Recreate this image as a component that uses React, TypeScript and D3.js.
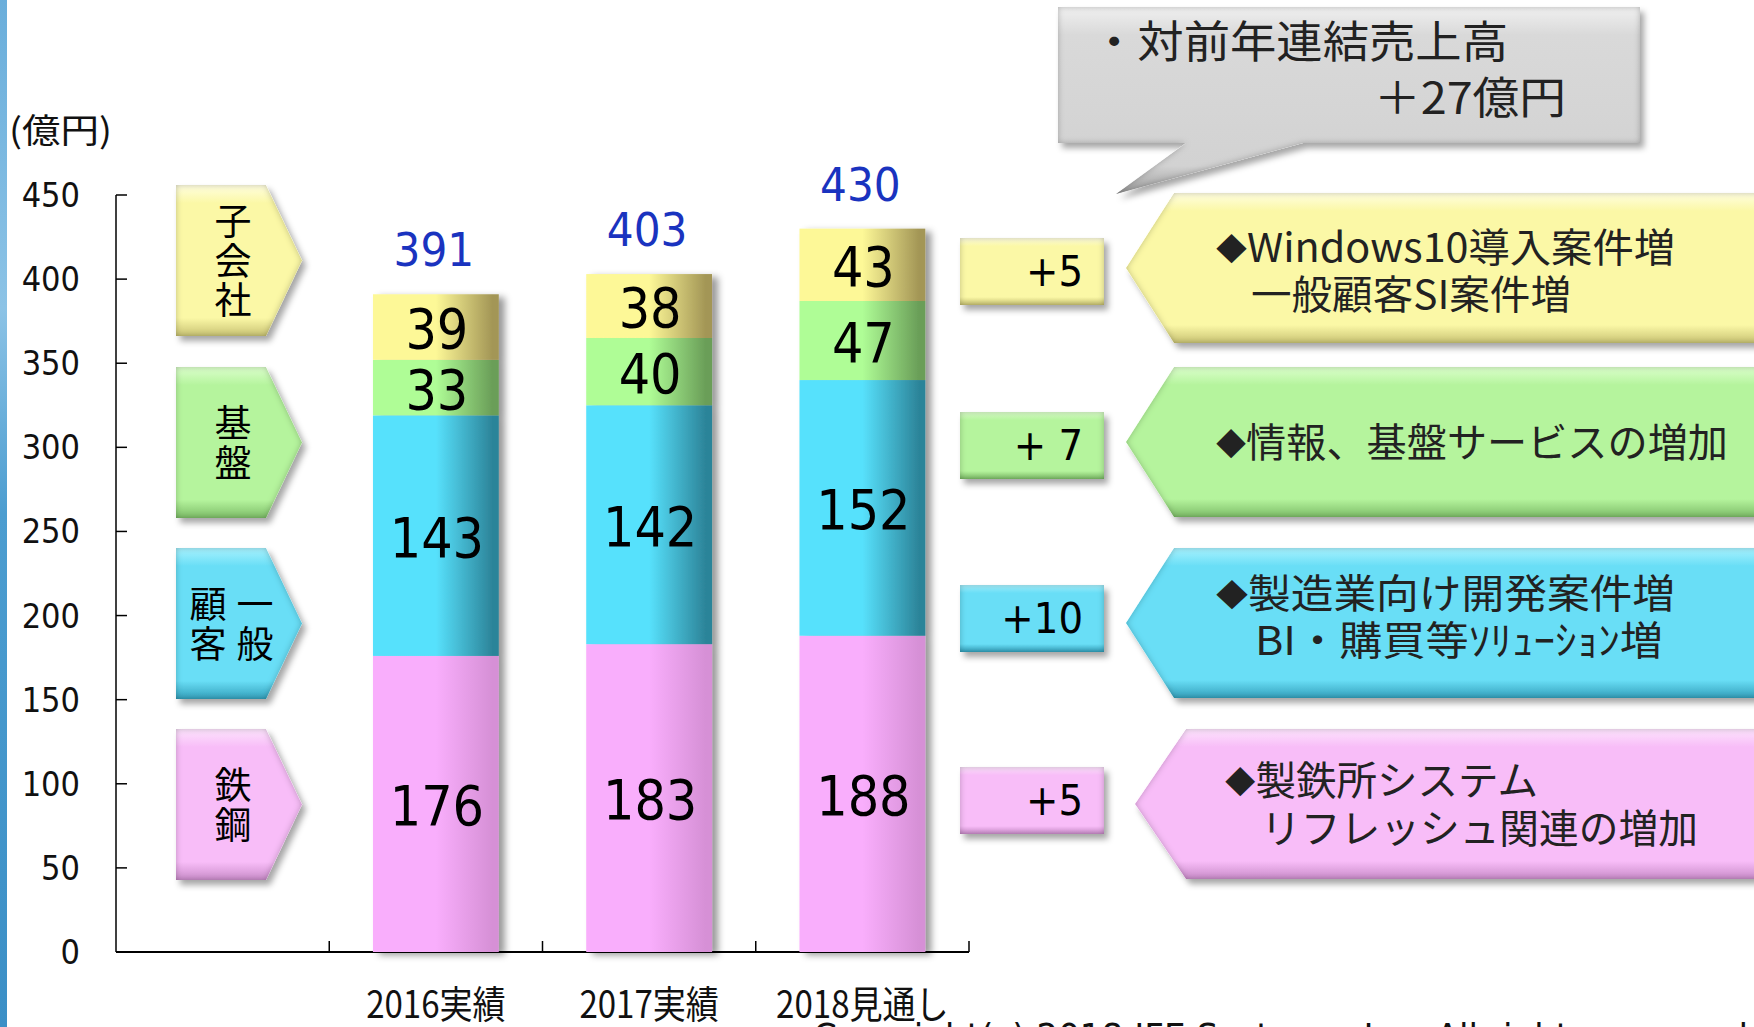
import React from "react";
import * as d3 from "d3";

// ---------- data ----------
const categories = ["2016実績", "2017実績", "2018見通し"];
const steelValues = [176, 183, 188];
const customerValues = [143, 142, 152];
const infraValues = [33, 40, 47];
const subsidiaryValues = [39, 38, 43];
const totalValues = [391, 403, 430];
const yTickValues = [0, 50, 100, 150, 200, 250, 300, 350, 400, 450];
const seriesKeys = ["steel", "customer", "infra", "subsidiary"];
const deltaLabels = ["+5", "+10", "+ 7", "+5"];
const calloutLines = [
  ["◆製鉄所システム", "リフレッシュ関連の増加"],
  ["◆製造業向け開発案件増", "BI・購買等ｿﾘｭｰｼｮﾝ増"],
  ["◆情報、基盤サービスの増加"],
  ["◆Windows10導入案件増", "一般顧客SI案件増"],
];
// vertical legend texts, columns from left to right
const legendColumns = [["鉄鋼"], ["顧客", "一般"], ["基盤"], ["子会社"]];
const bubbleLines = ["・対前年連結売上高", "＋27億円"];
const unitLabel = "(億円)";
const copyright = "Copyright(c) 2018 JFE Systems, Inc. All rights reserved.";

// ---------- styles / layout ----------
const W = 1754;
const H = 1027;
const NUM_FONT = "'DejaVu Sans Condensed', 'DejaVu Sans', sans-serif";
const JP_FONT = "'Noto Sans CJK JP', 'Noto Sans', sans-serif";

const barColors: Record<string, [string, string]> = {
  steel: ["#f9aefc", "#d690d6"],
  customer: ["#57e1fc", "#2c8499"],
  infra: ["#affd96", "#6a9e58"],
  subsidiary: ["#fdf897", "#a39656"],
};
const shapeColors = [
  { light: "#fde4fd", base: "#f8bdf8", dark: "#c98cc9" },
  { light: "#a8f2ff", base: "#69def6", dark: "#35a0bb" },
  { light: "#dcffcc", base: "#b5f49d", dark: "#7dbd68" },
  { light: "#fffee0", base: "#fbf8a6", dark: "#c9c374" },
];
const legendTops = [729, 548, 367, 185];
const calloutGeo = [
  { tip: 1135, body: 1186, top: 729 },
  { tip: 1126, body: 1174, top: 548 },
  { tip: 1126, body: 1174, top: 367 },
  { tip: 1126, body: 1174, top: 193 },
];
const calloutText = [
  [{ x: 1225, y: 795, w: 313 }, { x: 1261, y: 843, w: 437 }],
  [{ x: 1216, y: 608, w: 459 }, { x: 1255, y: 655, w: 408 }],
  [{ x: 1216, y: 457, w: 512 }],
  [{ x: 1216, y: 262, w: 459 }, { x: 1251, y: 309, w: 320 }],
];
const deltaTops = [767, 585, 412, 238];

export default function App() {
  const x = d3
    .scaleBand<string>()
    .domain(["", ...categories])
    .range([116, 969])
    .padding(0);
  const y = d3.scaleLinear().domain([0, 450]).range([952, 195]);
  const bw = x.bandwidth();
  const barW = bw * 0.59;

  const rows = categories.map((c, i) => ({
    cat: c,
    steel: steelValues[i],
    customer: customerValues[i],
    infra: infraValues[i],
    subsidiary: subsidiaryValues[i],
  }));
  const stacked = d3.stack<any>().keys(seriesKeys)(rows);

  const legendPath = (top: number) => {
    const l = 176, r = 266, tip = 302, h = 151;
    return d3.line()([
      [l, top], [r, top], [tip, top + h / 2], [r, top + h], [l, top + h],
    ] as [number, number][]) + "Z";
  };
  const calloutPath = (g: { tip: number; body: number; top: number }) => {
    const h = 150;
    return d3.line()([
      [g.body, g.top], [W + 10, g.top], [W + 10, g.top + h], [g.body, g.top + h], [g.tip, g.top + h / 2],
    ] as [number, number][]) + "Z";
  };
  const bubblePath = d3.line()([
    [1058, 7], [1640, 7], [1640, 143], [1303, 143], [1116, 194], [1186, 143], [1058, 143],
  ] as [number, number][]) + "Z";

  const boundaries = x.domain().slice(1).map((d) => x(d)!).concat([x.range()[1]]);

  const renderLine = (line: string) =>
    line.startsWith("◆") ? (
      <>
        <tspan fontSize={30} dy={-2}>◆</tspan>
        <tspan dy={2}>{line.slice(1)}</tspan>
      </>
    ) : (
      line
    );

  return (
    <svg
      width={W}
      height={H}
      viewBox={`0 0 ${W} ${H}`}
      style={{ position: "absolute", left: 0, top: 0, background: "#fff" }}
    >
      <defs>
        {seriesKeys.map((k) => (
          <linearGradient key={k} id={`bar-${k}`} x1="0" x2="1" y1="0" y2="0">
            <stop offset="0" stopColor={barColors[k][0]} />
            <stop offset="0.5" stopColor={barColors[k][0]} />
            <stop offset="0.95" stopColor={barColors[k][1]} />
            <stop offset="1" stopColor={barColors[k][1]} />
          </linearGradient>
        ))}
        {shapeColors.map((c, i) => (
          <linearGradient key={i} id={`shape-${i}`} x1="0" x2="0" y1="0" y2="1">
            <stop offset="0" stopColor={c.light} />
            <stop offset="0.12" stopColor={c.base} />
            <stop offset="0.88" stopColor={c.base} />
            <stop offset="1" stopColor={c.dark} />
          </linearGradient>
        ))}
        <linearGradient id="bubble-grad" x1="0" x2="0" y1="0" y2="1">
          <stop offset="0" stopColor="#f0f0f0" />
          <stop offset="0.15" stopColor="#d9d9d9" />
          <stop offset="0.85" stopColor="#d2d2d2" />
          <stop offset="1" stopColor="#9e9e9e" />
        </linearGradient>
        <linearGradient id="stripe" x1="0" x2="0" y1="0" y2="1">
          <stop offset="0" stopColor="#6aaedb" />
          <stop offset="0.3" stopColor="#8cc3e6" />
          <stop offset="0.5" stopColor="#4c9dd0" />
          <stop offset="1" stopColor="#3b8fc6" />
        </linearGradient>
        <filter id="bevel" x="-10%" y="-10%" width="125%" height="130%">
          <feGaussianBlur in="SourceAlpha" stdDeviation="3" result="blur" />
          <feComposite in="SourceAlpha" in2="blur" operator="arithmetic" k2="1" k3="-1" result="edge" />
          <feFlood floodColor="#000" floodOpacity="0.5" />
          <feComposite in2="edge" operator="in" result="edgeShade" />
          <feOffset in="SourceAlpha" dx="4" dy="5" result="off" />
          <feGaussianBlur in="off" stdDeviation="3" result="shBlur" />
          <feFlood floodColor="#000" floodOpacity="0.35" />
          <feComposite in2="shBlur" operator="in" result="shadow" />
          <feMerge>
            <feMergeNode in="shadow" />
            <feMergeNode in="SourceGraphic" />
            <feMergeNode in="edgeShade" />
          </feMerge>
        </filter>
        <filter id="barShadow" x="-10%" y="-5%" width="130%" height="110%">
          <feOffset in="SourceAlpha" dx="6" dy="3" result="off" />
          <feGaussianBlur in="off" stdDeviation="3.5" result="b" />
          <feFlood floodColor="#000" floodOpacity="0.4" />
          <feComposite in2="b" operator="in" result="sh" />
          <feMerge>
            <feMergeNode in="sh" />
            <feMergeNode in="SourceGraphic" />
          </feMerge>
        </filter>
      </defs>

      <rect x={0} y={0} width={W} height={H} fill="#ffffff" />
      <rect x={0} y={0} width={7} height={H} fill="url(#stripe)" />

      {/* unit label */}
      <text x={9} y={143} fontFamily={JP_FONT} fontSize={34} textLength={103} lengthAdjust="spacingAndGlyphs" fill="#111">
        {unitLabel}
      </text>

      {/* y axis */}
      <line x1={116} x2={116} y1={y(450)} y2={y(0)} stroke="#000" strokeWidth={1.5} />
      {yTickValues.map((t) => (
        <g key={t}>
          <line x1={116} x2={127} y1={y(t)} y2={y(t)} stroke="#000" strokeWidth={1.5} />
          <text x={80} y={y(t) + 12} textAnchor="end" fontFamily={NUM_FONT} fontSize={34} fill="#111">
            {t}
          </text>
        </g>
      ))}
      {/* x axis */}
      <line x1={116} x2={x.range()[1]} y1={y(0)} y2={y(0)} stroke="#000" strokeWidth={1.8} />
      {boundaries.map((b, i) => (
        <line key={i} x1={b} x2={b} y1={y(0)} y2={y(0) - 11} stroke="#000" strokeWidth={1.5} />
      ))}

      {/* copyright (cut by the bottom edge) */}
      <text x={813} y={1050} fontFamily={NUM_FONT} fontSize={38} fill="#111">
        {copyright}
      </text>

      {/* bars */}
      {categories.map((c, i) => {
        const bx = x(c)! + (bw - barW) / 2;
        return (
          <g key={c} filter="url(#barShadow)">
            {stacked.map((s) => {
              const d = s[i];
              return (
                <rect
                  key={s.key}
                  x={bx}
                  y={y(d[1])}
                  width={barW}
                  height={y(d[0]) - y(d[1])}
                  fill={`url(#bar-${s.key})`}
                />
              );
            })}
          </g>
        );
      })}
      {categories.map((c, i) => {
        const cx = x(c)! + bw / 2;
        return (
          <g key={c + "-lab"}>
            {stacked.map((s) => {
              const d = s[i];
              const cy = (y(d[0]) + y(d[1])) / 2;
              return (
                <text
                  key={s.key}
                  x={cx + 1}
                  y={cy + 21}
                  textAnchor="middle"
                  fontFamily={NUM_FONT}
                  fontSize={55}
                  fill="#000"
                >
                  {d[1] - d[0]}
                </text>
              );
            })}
            <text
              x={cx - 2}
              y={y(totalValues[i]) - 28}
              textAnchor="middle"
              fontFamily={NUM_FONT}
              fontSize={47}
              fill="#1a33bf"
            >
              {totalValues[i]}
            </text>
            <g transform={`translate(${cx},1018) scale(0.87,1)`}>
              <text x={0} y={0} textAnchor="middle" fontFamily={JP_FONT} fontSize={38} fill="#111">
                {c}
              </text>
            </g>
          </g>
        );
      })}

      {/* legend arrows on the left */}
      {legendTops.map((top, i) => {
        const cols = legendColumns[i];
        const colXs = cols.length === 1 ? [233] : [208, 255];
        return (
          <g key={"lg" + i}>
            <path d={legendPath(top)} fill={`url(#shape-${i})`} filter="url(#bevel)" />
            {cols.map((col, ci) => (
              <text
                key={ci}
                x={colXs[ci]}
                y={top + 77}
                textAnchor="middle"
                fontFamily={JP_FONT}
                fontSize={37}
                letterSpacing={2.5}
                style={{ writingMode: "vertical-rl" as any }}
                fill="#000"
              >
                {col}
              </text>
            ))}
          </g>
        );
      })}

      {/* delta boxes */}
      {deltaTops.map((top, i) => (
        <g key={"d" + i}>
          <rect x={960} y={top} width={144} height={67} fill={`url(#shape-${i})`} filter="url(#bevel)" />
          <text x={1083} y={top + 48} textAnchor="end" fontFamily={NUM_FONT} fontSize={43} fill="#000">
            {deltaLabels[i]}
          </text>
        </g>
      ))}

      {/* callouts */}
      {calloutGeo.map((g, i) => (
        <g key={"c" + i}>
          <path d={calloutPath(g)} fill={`url(#shape-${i})`} filter="url(#bevel)" />
          {calloutLines[i].map((line, li) => (
            <text
              key={li}
              x={calloutText[i][li].x}
              y={calloutText[i][li].y}
              fontFamily={JP_FONT}
              fontSize={40}
              textLength={calloutText[i][li].w}
              lengthAdjust="spacingAndGlyphs"
              fill="#222"
            >
              {renderLine(line)}
            </text>
          ))}
        </g>
      ))}

      {/* speech bubble */}
      <path d={bubblePath} fill="url(#bubble-grad)" filter="url(#bevel)" />
      <text x={1091} y={58} fontFamily={JP_FONT} fontSize={44} textLength={417} lengthAdjust="spacingAndGlyphs" fill="#222">
        {bubbleLines[0]}
      </text>
      <text x={1374} y={114} fontFamily={JP_FONT} fontSize={44} textLength={192} lengthAdjust="spacingAndGlyphs" fill="#222">
        {bubbleLines[1]}
      </text>
    </svg>
  );
}
